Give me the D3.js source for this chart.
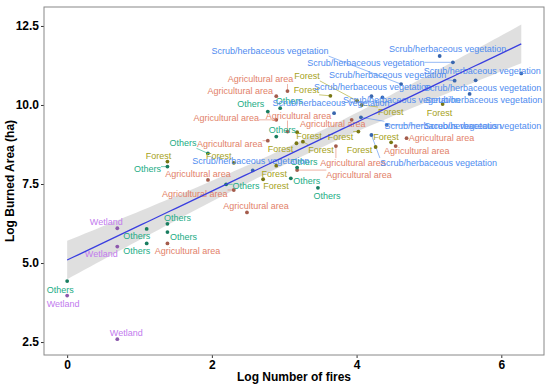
<!DOCTYPE html>
<html>
<head>
<meta charset="utf-8">
<script src="https://cdn.jsdelivr.net/npm/d3@7"></script>
<style>
    body { margin: 0; background: #fff; }
    text { font-family: "Liberation Sans", Arial, sans-serif; }
</style>
</head>
<body>
<script>
// Land cover classes, in legend order
var categories = ["Agricultural area", "Forest", "Others",
    "Scrub/herbaceous vegetation", "Wetland"];

// log(number of fires) and log(burned area) per class
var agriX = [3.045, 2.890, 2.890, 3.045, 3.932, 2.773, 4.691, 4.540, 3.714,
    3.178, 1.946, 2.303, 2.485, 1.386];
var agriY = [10.44, 10.28, 9.53, 9.16, 9.53, 8.87, 8.95, 8.70, 8.70,
    7.94, 7.63, 7.31, 6.60, 5.62];
var forestX = [3.638, 4.007, 4.070, 5.189, 3.178, 4.025, 4.477, 3.169, 3.258,
    4.263, 1.386, 2.303, 2.890, 2.708];
var forestY = [10.29, 10.13, 10.00, 10.03, 9.14, 9.16, 8.82, 8.79, 8.84,
    8.67, 8.21, 8.17, 8.08, 7.65];
var othersX = [1.099, 1.099, 1.386, 1.386, 0, 1.386, 1.946, 2.197, 2.773,
    2.944, 2.890, 3.178, 3.091, 3.466];
var othersY = [6.08, 5.62, 6.24, 5.98, 4.43, 8.05, 8.47, 7.49, 9.79,
    9.90, 9.00, 8.02, 7.68, 7.38];
var scrubX = [5.148, 5.331, 4.615, 5.355, 5.645, 6.276, 4.205, 4.357, 5.562,
    3.689, 4.060, 4.416, 4.205, 2.565];
var scrubY = [11.55, 11.35, 10.66, 10.77, 10.78, 11.00, 10.28, 10.24, 10.35,
    9.74, 9.61, 9.37, 9.05, 7.93];
var wetX = [0.693, 0.693, 0, 0.693];
var wetY = [6.10, 5.52, 3.97, 2.59];

var xTicks = [0, 2, 4, 6];
var yTicks = [2.5, 5.0, 7.5, 10.0, 12.5];

// label placement (pixels from the point, like ggrepel left them)
var agriNudge = [[-27, -12], [-36, -5], [-50, -2], [11, -16], [-19, 4],
    [-38, 3], [35, 0], [21, 5], [17, 17], [62, 5], [-10, -6], [-39, 4],
    [9, -6], [20, 8]];
var forestNudge = [[-24, -6], [-50, -25], [29, 7], [-3, 9], [12, 4],
    [-18, 5], [-5, -5], [-16, 6], [18, 8], [-16, 3], [-9, -6], [-15, -7],
    [-2, 8], [13, 7]];
var othersNudge = [[-10, 7], [-10, 8], [10, -6], [16, 5], [-7, 9], [-20, 2],
    [-25, -10], [20, 2], [-17, -8], [9, -7], [6, -7], [7, -6], [16, 3],
    [9, 8]];
var scrubNudge = [[8, -7], [-87, 1], [-131, -33], [-67, -6], [7, 8],
    [-39, -2], [1, -9], [19, 3], [14, 6], [-3, -10], [82, 9], [96, 1],
    [67, 28], [-2, -9]];
var wetNudge = [[-11, -6], [-16, 7], [-4, 8], [9, -6]];

var textColors = ["#e27f69", "#a6a21a", "#22ac85", "#4f8cf0", "#c27bee"];

// build one row list from the arrays
var groups = [[agriX, agriY, agriNudge], [forestX, forestY, forestNudge],
    [othersX, othersY, othersNudge], [scrubX, scrubY, scrubNudge],
    [wetX, wetY, wetNudge]];
var data = [];
groups.forEach(function(g, c) {
    g[0].forEach(function(x, i) {
        data.push({cat: c, x: x, y: g[1][i], dx: g[2][i][0], dy: g[2][i][1]});
    });
});

var margin = {top: 7, right: 6, bottom: 32, left: 44},
    width = 550 - margin.left - margin.right,
    height = 387 - margin.top - margin.bottom;

var svg = d3.select("body").append("svg")
    .attr("width", 550)
    .attr("height", 387)
    .append("g")
    .attr("transform", "translate(" + margin.left + "," + margin.top + ")");

var xScale = d3.scaleLinear().domain([-0.32, 6.59]).range([0, width]);
var yScale = d3.scaleLinear().domain([2.09, 13.1]).range([height, 0]);

// linear fit with 95% band, as geom_smooth(method = "lm")
var n = data.length;
var xm = d3.mean(data, function(d) { return d.x; });
var ym = d3.mean(data, function(d) { return d.y; });
var sxx = d3.sum(data, function(d) { return (d.x - xm) * (d.x - xm); });
var sxy = d3.sum(data, function(d) { return (d.x - xm) * (d.y - ym); });
var slope = sxy / sxx;
var icept = ym - slope * xm;
var sres = Math.sqrt(d3.sum(data, function(d) {
    var r = d.y - (icept + slope * d.x);
    return r * r;
}) / (n - 2));
var tq = 2.0;
var xExt = d3.extent(data, function(d) { return d.x; });
var fit = d3.range(80).map(function(i) {
    var x = xExt[0] + (xExt[1] - xExt[0]) * i / 79;
    var yh = icept + slope * x;
    var se = sres * Math.sqrt(1 / n + (x - xm) * (x - xm) / sxx);
    return {x: x, y: yh, lo: yh - tq * se, hi: yh + tq * se};
});

svg.append("path")
    .datum(fit)
    .attr("fill", "#d4d4d4")
    .attr("fill-opacity", 0.75)
    .attr("d", d3.area()
        .x(function(d) { return xScale(d.x); })
        .y0(function(d) { return yScale(d.lo); })
        .y1(function(d) { return yScale(d.hi); }));

// labels first (hidden) so we know their size for the leader lines
var labels = svg.selectAll(".lab")
    .data(data)
    .enter()
    .append("text")
    .attr("class", "lab")
    .attr("x", function(d) { return xScale(d.x) + d.dx; })
    .attr("y", function(d) { return yScale(d.y) + d.dy; })
    .attr("text-anchor", "middle")
    .attr("dominant-baseline", "central")
    .attr("font-size", "9px")
    .attr("fill", function(d) { return textColors[d.cat]; })
    .text(function(d) { return categories[d.cat]; });

labels.each(function(d) {
    var w = this.getComputedTextLength();
    var cx = xScale(d.x) + d.dx, cy = yScale(d.y) + d.dy;
    var px = xScale(d.x), py = yScale(d.y);
    var ex = Math.max(cx - w / 2, Math.min(px, cx + w / 2));
    var ey = Math.max(cy - 5, Math.min(py, cy + 5));
    if (Math.hypot(ex - px, ey - py) > 5) {
        svg.insert("line", ".lab")
            .attr("x1", px).attr("y1", py)
            .attr("x2", ex).attr("y2", ey)
            .attr("stroke", textColors[d.cat])
            .attr("stroke-width", 0.6);
    }
});

svg.insert("g", ".lab")
    .selectAll("circle")
    .data(data)
    .enter()
    .append("circle")
    .attr("cx", function(d) { return xScale(d.x); })
    .attr("cy", function(d) { return yScale(d.y); })
    .attr("r", 1.9)
    .attr("fill", function(d) {
        return d3.color(textColors[d.cat]).darker(0.9);
    });

svg.append("path")
    .datum(fit)
    .attr("fill", "none")
    .attr("stroke", "#3a3fe0")
    .attr("stroke-width", 1.3)
    .attr("d", d3.line()
        .x(function(d) { return xScale(d.x); })
        .y(function(d) { return yScale(d.y); }));

// axes
var xAxis = d3.axisBottom(xScale).tickValues(xTicks)
    .tickSize(3).tickPadding(2).tickFormat(d3.format("d"));
var yAxis = d3.axisLeft(yScale).tickValues(yTicks)
    .tickSize(3).tickPadding(2).tickFormat(d3.format(".1f"));

var gx = svg.append("g")
    .attr("transform", "translate(0," + height + ")")
    .call(xAxis);
var gy = svg.append("g").call(yAxis);

[gx, gy].forEach(function(g) {
    g.select(".domain").remove();
    g.selectAll("line").attr("stroke", "#333");
    g.selectAll("text")
        .attr("font-size", "12px")
        .attr("font-weight", "bold")
        .attr("fill", "#000")
        .style("font-family", "'Liberation Sans', Arial, sans-serif");
});

svg.append("rect")
    .attr("width", width)
    .attr("height", height)
    .attr("fill", "none")
    .attr("stroke", "#888")
    .attr("stroke-width", 1);

svg.append("text")
    .attr("x", width / 2)
    .attr("y", height + 26)
    .attr("text-anchor", "middle")
    .attr("font-size", "12px")
    .attr("font-weight", "bold")
    .text("Log Number of fires");

svg.append("text")
    .attr("transform", "translate(" + (-30) + "," + (height / 2) + ") rotate(-90)")
    .attr("text-anchor", "middle")
    .attr("font-size", "12px")
    .attr("font-weight", "bold")
    .text("Log Burned Area (ha)");
</script>
</body>
</html>
